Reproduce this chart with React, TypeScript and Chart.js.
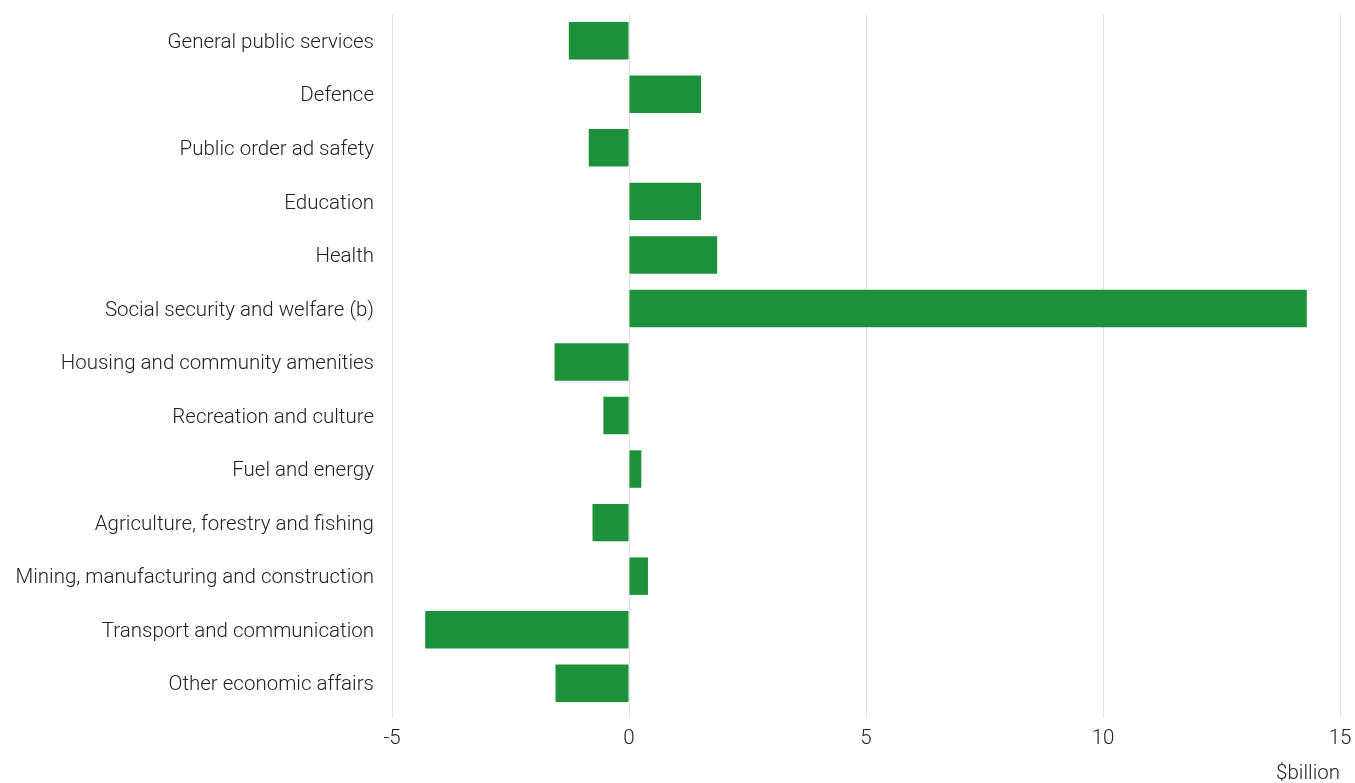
import React, { useEffect, useRef } from "react";
import { Chart, registerables } from "chart.js";

Chart.register(...registerables);

const categories = [
  "General public services",
  "Defence",
  "Public order ad safety",
  "Education",
  "Health",
  "Social security and welfare (b)",
  "Housing and community amenities",
  "Recreation and culture",
  "Fuel and energy",
  "Agriculture, forestry and fishing",
  "Mining, manufacturing and construction",
  "Transport and communication",
  "Other economic affairs",
];

const values = [-1.27, 1.52, -0.85, 1.52, 1.86, 14.3, -1.57, -0.54, 0.26, -0.77, 0.4, -4.3, -1.55];

const xMin = -5;
const xMax = 15;
const xStep = 5;
const unitLabel = "$billion";

export default function App() {
  const ref = useRef<HTMLCanvasElement>(null);
  useEffect(() => {
    const fontFamily = "Roboto, 'Noto Sans', sans-serif";
    const chart = new Chart(ref.current!, {
      type: "bar",
      data: {
        labels: categories,
        datasets: [
          {
            data: values,
            backgroundColor: "#1b923a",
            barPercentage: 0.7,
            categoryPercentage: 1,
          },
        ],
      },
      options: {
        indexAxis: "y",
        animation: false,
        responsive: false,
        maintainAspectRatio: false,
        layout: { padding: { top: 14, right: 15, left: 0, bottom: 0 } },
        plugins: { legend: { display: false }, tooltip: { enabled: false } },
        scales: {
          x: {
            min: xMin,
            max: xMax,
            ticks: {
              stepSize: xStep,
              color: "#222",
              font: { family: fontFamily, size: 20.5, weight: "300" },
              padding: 9,
            },
            grid: { color: "#e0e0e0", tickLength: 8, drawTicks: true },
            border: { display: false },
            title: {
              display: true,
              text: unitLabel,
              align: "end",
              color: "#222",
              font: { family: fontFamily, size: 20.5, weight: "300" },
              padding: { top: 14, bottom: -3 },
            },
            afterFit: (scale: any) => {
              scale.height = 73;
              scale.paddingLeft = 0;
              scale.paddingRight = 0;
            },
          },
          y: {
            ticks: {
              color: "#222",
              font: { family: fontFamily, size: 20.5, weight: "300" },
              padding: 10,
              labelOffset: 2,
            },
            grid: { display: false },
            border: { display: false },
            afterFit: (scale: any) => {
              scale.width = 392;
              scale.paddingTop = 0;
              scale.paddingBottom = 0;
            },
          },
        },
      },
    });
    return () => chart.destroy();
  }, []);
  return (
    <div style={{ position: "absolute", left: 0, top: 0, width: 1355, height: 783 }}>
      <canvas ref={ref} width={1355} height={783} style={{ width: 1355, height: 783 }} />
    </div>
  );
}
